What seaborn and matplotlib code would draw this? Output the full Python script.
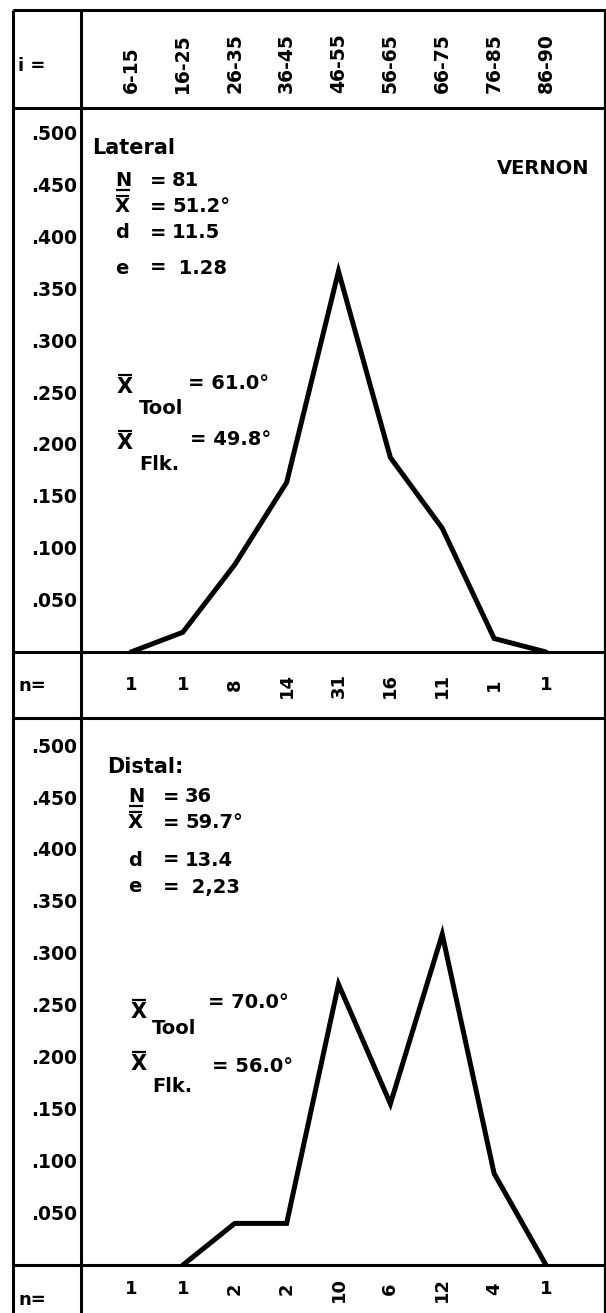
import numpy as np
import pandas as pd
import matplotlib
matplotlib.use("Agg")
import matplotlib.pyplot as plt
from matplotlib.lines import Line2D
from matplotlib.transforms import blended_transform_factory
import seaborn as sns

# ---- data -------------------------------------------------------------
class_ranges = ["6-15", "16-25", "26-35", "36-45", "46-55",
                "56-65", "66-75", "76-85", "86-90"]

lateral_freq = [0.0, 0.019, 0.084, 0.163, 0.366, 0.187, 0.119, 0.013, 0.0]
lateral_n = [1, 1, 8, 14, 31, 16, 11, 1, 1]

distal_freq = [np.nan, 0.0, 0.040, 0.040, 0.270, 0.155, 0.318, 0.088, 0.0]
distal_n = [1, 1, 2, 2, 10, 6, 12, 4, 1]

freq_ticks = [0.050, 0.100, 0.150, 0.200, 0.250, 0.300, 0.350, 0.400, 0.450, 0.500]

lateral_stats = [("N", "81"), ("X", "51.2°"), ("d", "11.5"), ("e", " 1.28")]
distal_stats = [("N", "36"), ("X", "59.7°"), ("d", "13.4"), ("e", " 2,23")]
lateral_means = [("Tool", "61.0°"), ("Flk.", "49.8°")]
distal_means = [("Tool", "70.0°"), ("Flk.", "56.0°")]
site_name = "VERNON"

# ---- style ------------------------------------------------------------
sns.set_theme(style="white")
plt.rcParams["font.family"] = ["DejaVu Sans"]
plt.rcParams["font.weight"] = "bold"
plt.rcParams["text.color"] = "black"
plt.rcParams["ytick.color"] = "black"
plt.rcParams["xtick.color"] = "black"

W, H = 606, 1313
fig = plt.figure(figsize=(W / 100, H / 100), dpi=100)
fig.patch.set_facecolor("white")
renderer = fig.canvas.get_renderer()

FS = 14
PX_PER_UNIT = 1040.0          # vertical scale of both frequency panels
X0, X1 = 81, 604              # plotting columns (left divider / right edge)
CAT_LEFT, CAT_RIGHT = 131, 546
step = (CAT_RIGHT - CAT_LEFT) / (len(class_ranges) - 1)
xlim = (-(CAT_LEFT - X0) / step, len(class_ranges) - 1 + (X1 - CAT_RIGHT) / step)


def box(top, bottom):
    return [X0 / W, 1 - bottom / H, (X1 - X0) / W, (bottom - top) / H]


def put(s, px, py, size=FS, **kw):
    kw.setdefault("ha", "left")
    kw.setdefault("va", "center")
    return fig.text(px / W, 1 - py / H, s, fontsize=size, fontweight="bold",
                    color="black", **kw)


def put_barred(s, px, py, size=FS, over=True):
    """Letter with a bar above (mean) or below (sample size)."""
    t = put(s, px, py, size=size)
    bb = t.get_window_extent(renderer)
    x_a, x_b = bb.x0 + 1, bb.x1 - 1
    y = bb.y1 + 2 if over else bb.y0 + 1
    fig.add_artist(Line2D([x_a / W, x_b / W], [y / H, y / H],
                          color="black", lw=1.6, solid_capstyle="butt"))
    return t


def clean(ax):
    for sp in ax.spines.values():
        sp.set_visible(False)
    ax.set_facecolor("none")
    ax.set_xlim(*xlim)
    ax.set_xticks([])
    ax.set_xlabel("")
    ax.set_ylabel("")


def freq_panel(top, bottom, freqs):
    ax = fig.add_axes(box(top, bottom))
    df = pd.DataFrame({"pos": np.arange(len(class_ranges)), "freq": freqs})
    sns.lineplot(data=df, x="pos", y="freq", ax=ax, color="black",
                 lw=3.6, sort=False, solid_joinstyle="miter")
    clean(ax)
    ax.set_ylim(0, (bottom - top) / PX_PER_UNIT)
    ax.set_yticks(freq_ticks)
    ax.set_yticklabels(["." + f"{round(v * 1000):03d}" for v in freq_ticks],
                       fontsize=13.5, fontweight="bold", color="black")
    ax.tick_params(axis="y", length=0, pad=3)
    return ax


def count_row(top, bottom, counts, yfrac, upright):
    ax = fig.add_axes(box(top, bottom))
    clean(ax)
    ax.set_ylim(0, 1)
    ax.set_yticks([])
    tr = blended_transform_factory(ax.transData, ax.transAxes)
    for i, c in enumerate(counts):
        ax.text(i, yfrac, str(c), rotation=0 if upright[i] else 90,
                ha="center", va="center", fontsize=13, fontweight="bold",
                color="black", transform=tr)
    return ax


# header with class intervals
ax_hdr = fig.add_axes(box(10, 108))
clean(ax_hdr)
ax_hdr.set_ylim(0, 1)
ax_hdr.set_yticks([])
tr = blended_transform_factory(ax_hdr.transData, ax_hdr.transAxes)
for i, lab in enumerate(class_ranges):
    ax_hdr.text(i, 0.15, lab, rotation=90, ha="center", va="bottom",
                fontsize=13.5, fontweight="bold", color="black", transform=tr)

# lateral panel
freq_panel(108, 652, lateral_freq)
count_row(652, 718, lateral_n, 0.5,
          upright=[True, True, False, False, False, False, False, False, True])

# distal panel
freq_panel(718, 1265, distal_freq)
count_row(1265, 1313, distal_n, 0.5,
          upright=[True, True, False, False, False, False, False, False, True])

# row labels in the left column
put("i =", 18, 66, size=13)
put("n=", 18, 686, size=13)
put("n=", 18, 1300, size=13)

# ---- grid frame ---------------------------------------------------------
def hline(py, x_from=13, x_to=606, lw=2.2):
    fig.add_artist(Line2D([x_from / W, x_to / W], [1 - py / H] * 2,
                          color="black", lw=lw, solid_capstyle="butt"))


def vline(px, y_from=10, y_to=H, lw=2.2):
    fig.add_artist(Line2D([px / W] * 2, [1 - y_from / H, 1 - y_to / H],
                          color="black", lw=lw, solid_capstyle="butt"))


for y in (10, 108, 652, 718, 1265):
    hline(y)
vline(13)
vline(81)
vline(604.5, lw=1.6)


def stats_block(stats, x_sym, x_eq, x_val, rows):
    for (sym, val), y in zip(stats, rows):
        if sym == "N":
            put_barred(sym, x_sym, y, over=False)
        elif sym == "X":
            put_barred(sym, x_sym, y, over=True)
        else:
            put(sym, x_sym, y)
        put("=", x_eq, y)
        put(val, x_val, y)


# ---- annotations: lateral ----------------------------------------------
put("Lateral", 92, 148, size=15)
put(site_name, 497, 168, size=14)
stats_block(lateral_stats, 115, 150, 172, [181, 207, 233, 268])
for (sub, val), y, dx, dy in zip(lateral_means, [387, 443], [188, 190], [-4, -3]):
    put_barred("X", 117, y, size=15, over=True)
    put(sub, 139, y + 21)
    put("= " + val, dx, y + dy)

# ---- annotations: distal -----------------------------------------------
put("Distal:", 107, 767, size=15)
stats_block(distal_stats, 128, 163, 185, [797, 823, 860, 887])
for (sub, val), y, sy, dx, dy in zip(distal_means, [1012, 1064], [17, 22],
                                      [208, 212], [-9, 3]):
    put_barred("X", 131, y, size=15, over=True)
    put(sub, 152, y + sy)
    put("= " + val, dx, y + dy)

fig.savefig("out.png", dpi=100, facecolor="white")
